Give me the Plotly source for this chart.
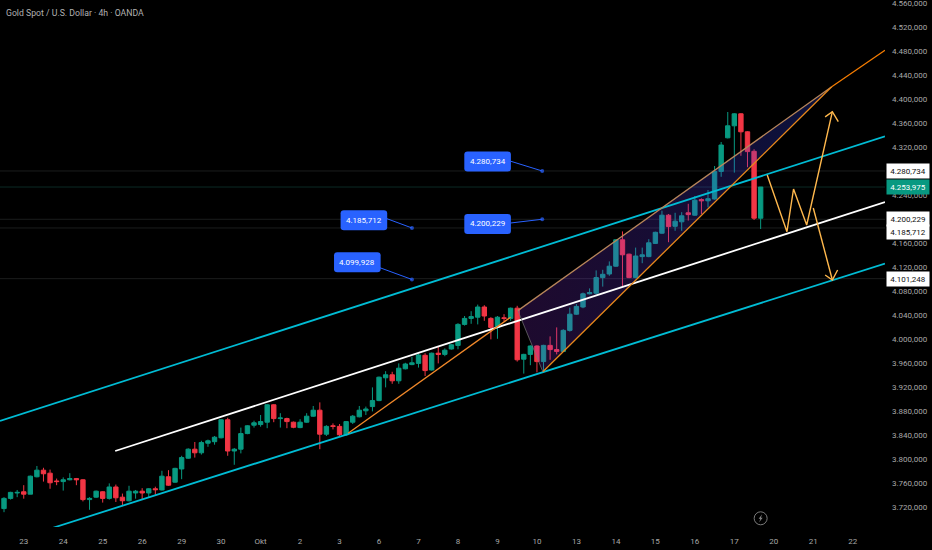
import plotly.graph_objects as go

# 4h candles, bar index is the x axis
opens = [3718, 3735, 3744, 3746, 3742, 3771, 3782, 3777, 3764, 3763, 3766, 3768, 3766, 3733, 3737, 3746, 3735, 3754, 3737, 3731,
         3744, 3747, 3744, 3751, 3749, 3771, 3762, 3784, 3802, 3817, 3811, 3827, 3829.5, 3836, 3866, 3814, 3817, 3843, 3857, 3858,
         3862, 3891, 3868, 3868, 3862, 3853, 3862, 3872, 3882, 3842, 3856, 3855, 3841, 3862, 3871, 3881, 3888, 3898, 3936, 3941,
         3931, 3951, 3958, 3960, 3973.5, 3949, 3977, 3975, 3984, 3990, 4025, 4035, 4037, 4054, 4035, 4020, 4036, 4035, 4052, 3967,
         3975, 3989, 3963, 3990, 3983, 3980, 4015, 4042, 4054, 4076, 4077, 4103, 4109, 4122, 4166, 4142, 4103, 4138, 4138, 4160,
         4177, 4207, 4188.5, 4196, 4211, 4207, 4233, 4231, 4234, 4280, 4336, 4356, 4376, 4346, 4313.5, 4202]
highs = [3737, 3746, 3749, 3757, 3773, 3789, 3786, 3783, 3768, 3770, 3777, 3769, 3767, 3737, 3748, 3747, 3760, 3758, 3743, 3756,
         3749, 3752, 3752, 3754.5, 3781, 3782, 3786, 3806, 3818.5, 3829, 3831, 3833, 3839, 3867, 3869.5, 3819, 3853, 3857, 3864.5, 3874,
         3892, 3892, 3877, 3869.5, 3863, 3867, 3877, 3889, 3895, 3857, 3860, 3859, 3864, 3874, 3889, 3888, 3920, 3938, 3947, 3946,
         3960, 3961, 3971, 3976, 3977, 3978, 3988, 3985, 3992, 4027, 4039, 4047, 4058, 4057, 4037, 4039, 4042, 4053, 4056, 3976,
         3990, 3990, 3991, 4005, 4020, 4017, 4053, 4059, 4078, 4085, 4115, 4116, 4130, 4167, 4180, 4143, 4153, 4153, 4167, 4179.5,
         4214.5, 4209, 4211, 4212, 4226, 4239, 4235, 4249, 4289, 4329, 4379, 4377, 4377, 4347, 4317, 4254]
lows = [3712, 3733, 3737, 3734.5, 3742, 3770, 3763, 3751, 3757, 3748, 3765, 3757, 3730, 3716, 3736, 3728, 3733, 3729, 3722, 3730,
        3734.5, 3733, 3737, 3741, 3748, 3756, 3761, 3767, 3801, 3803, 3808, 3821, 3824.5, 3835, 3806, 3791, 3810, 3842, 3853, 3854.5,
        3852, 3862, 3853, 3852, 3852, 3852, 3861, 3871, 3817, 3839, 3850, 3839, 3839, 3859, 3870, 3874, 3880, 3897, 3920, 3926,
        3926, 3950, 3957, 3953, 3939, 3948, 3960, 3972, 3983, 3983.5, 4023, 4026, 4025, 4031, 4000, 4001, 4030, 4031, 3963, 3943,
        3957, 3945, 3946, 3966, 3975, 3979, 4013, 4041, 4052, 4075, 4075, 4088, 4106, 4121, 4089, 4102, 4102, 4127, 4137, 4159,
        4176, 4162, 4181, 4181, 4198, 4206, 4209, 4220, 4233, 4271, 4335, 4278, 4306, 4287, 4199, 4184]
closes = [3735, 3745, 3745, 3742, 3772, 3782, 3776, 3761, 3763, 3766, 3768, 3766, 3733, 3735, 3747, 3735, 3754, 3736, 3731, 3747,
          3747, 3744, 3751, 3749.5, 3772, 3757, 3785, 3803, 3817, 3811, 3828, 3831, 3837, 3866, 3814, 3817, 3843, 3856, 3861, 3863,
          3891, 3868, 3869, 3863, 3853.5, 3862, 3872, 3882, 3842, 3855, 3855, 3841, 3863, 3872, 3882, 3884, 3898, 3937, 3941, 3931,
          3952, 3959, 3961, 3974, 3948, 3977, 3975, 3982, 3991, 4025, 4035, 4038, 4054, 4039, 4020, 4037, 4035, 4052, 3966, 3975,
          3989, 3963, 3990, 3983, 3980, 4015, 4042, 4055, 4076, 4078, 4103, 4108.5, 4122, 4166, 4141, 4103, 4139, 4141, 4161, 4178.5,
          4207, 4188, 4197, 4206, 4208, 4232, 4231, 4234.5, 4280, 4324, 4356, 4376, 4346, 4313, 4202, 4253.975]

# axis labels
day_positions = [3, 9, 15, 21, 27, 33, 39, 45, 51, 57, 63, 69, 75, 81, 87, 93, 99, 105, 111, 117, 123, 129]
day_labels = ["23", "24", "25", "26", "29", "30", "Okt", "2", "3", "6", "7", "8", "9", "10", "13", "14", "15", "16", "17", "20", "21", "22"]

# drawings: channel, wedge, projections
upper_channel_x, upper_channel_y = [-0.61, 133.9], [3864, 4338.5]
lower_channel_x, lower_channel_y = [7.45, 133.9], [3686, 4126.5]
mid_line_x, mid_line_y = [16.9, 133.9], [3814, 4229]
rise_line_x, rise_line_y = [52.3, 77], [3843.5, 4037]
wedge_x, wedge_y = [78.1, 125.8, 81.9, 78.1], [4048, 4421, 3946, 4048]
ray_x, ray_y = [125.8, 133.9], [4421, 4482]
path_up_x = [116, 119, 120, 122, 125.9]
path_up_y = [4274, 4179.5, 4250.7, 4190.7, 4379.5]
head_up_x, head_up_y = [124.8, 125.9, 126.8], [4371, 4379.5, 4362.8]
path_down_x, path_down_y = [123, 125.9], [4219, 4099]
head_down_x, head_down_y = [124.8, 125.9, 126.7], [4107.3, 4099, 4115.7]

# price levels and the labels on the price scale
level_prices = [4280.734, 4253.975, 4200.229, 4185.712, 4101.248]
level_labels = ["4.280,734", "4.253,975", "4.200,229", "4.185,712", "4.101,248"]
level_colors = ["#1b1d1d", "#0b2a25", "#1b1d1d", "#1b1d1d", "#1b1d1d"]
level_shifts = [0, 0, 0, -4, 0]

# blue callouts: text, box centre, dot
callout_text = ["4.280,734", "4.200,229", "4.185,712", "4.099,928"]
callout_x = [73.5, 73.5, 54.7, 53.7]
callout_y = [4296.5, 4192.5, 4198.5, 4128.5]
callout_edge_x = [77, 77, 58, 57]
callout_edge_y = [4297, 4194, 4202, 4120]
callout_dot_x = [81.8, 81.8, 62, 62]
callout_dot_y = [4280.7, 4200.2, 4185.7, 4099.9]

fig = go.Figure()

# candles first, scatter always sits on top of them
fig.add_trace(go.Candlestick(
    x=list(range(len(opens))), open=opens, high=highs, low=lows, close=closes,
    increasing=dict(line=dict(color="#089981", width=1), fillcolor="#089981"),
    decreasing=dict(line=dict(color="#F23645", width=1), fillcolor="#F23645"),
    whiskerwidth=0, hoverinfo="skip"
))

# wedge fill, purple on the left going to navy
fig.add_trace(go.Scatter(
    x=wedge_x, y=wedge_y, mode="none", fill="toself",
    fillgradient=dict(type="horizontal", colorscale=[[0, "rgba(150,50,230,0.2)"], [1, "rgba(40,70,240,0.25)"]]),
    hoverinfo="skip"
))


def add_line(xs, ys, color, width=1.8):
    fig.add_trace(go.Scatter(x=xs, y=ys, mode="lines", line=dict(color=color, width=width), hoverinfo="skip"))


add_line(upper_channel_x, upper_channel_y, "#00BCD4")
add_line(lower_channel_x, lower_channel_y, "#00BCD4")
add_line(mid_line_x, mid_line_y, "#FFFFFF")
add_line(rise_line_x, rise_line_y, "#F0882A", 1.3)
add_line(wedge_x[:2], wedge_y[:2], "#B8865A", 1.3)
add_line(wedge_x[1:3], wedge_y[1:3], "#E8891C", 1.3)
add_line(wedge_x[2:], wedge_y[2:], "#777777", 0.7)
add_line(ray_x, ray_y, "#F57C00", 1.3)
add_line(path_up_x, path_up_y, "#FFB84D", 1.4)
add_line(head_up_x, head_up_y, "#FFB84D", 1.4)
add_line(path_down_x, path_down_y, "#FFB84D", 1.4)
add_line(head_down_x, head_down_y, "#FFB84D", 1.4)

# callout leaders with the dot on the far end
for i in range(len(callout_text)):
    fig.add_trace(go.Scatter(
        x=[callout_edge_x[i], callout_dot_x[i]], y=[callout_edge_y[i], callout_dot_y[i]],
        mode="lines+markers", line=dict(color="#2962FF", width=1),
        marker=dict(color="#2962FF", size=[0, 4], line=dict(width=0)), hoverinfo="skip"
    ))

shapes = []
annotations = []

for price, color in zip(level_prices, level_colors):
    shapes.append(dict(type="line", xref="paper", x0=0, x1=1, yref="y", y0=price, y1=price,
                       line=dict(color=color, width=1), layer="below"))

# rounded boxes are fixed pixel size so they stay the same at any range
box_path = "M -20,-10 L 20,-10 Q 23.3,-10 23.3,-7 L 23.3,7 Q 23.3,10 20,10 L -20,10 Q -23.3,10 -23.3,7 L -23.3,-7 Q -23.3,-10 -20,-10 Z"
for i in range(len(callout_text)):
    shapes.append(dict(type="path", xsizemode="pixel", ysizemode="pixel", xref="x", yref="y",
                       xanchor=callout_x[i], yanchor=callout_y[i], path=box_path,
                       fillcolor="#2962FF", line=dict(width=0)))
    annotations.append(dict(x=callout_x[i], y=callout_y[i], text=callout_text[i], showarrow=False,
                            font=dict(family="Roboto", size=8, color="#FFFFFF")))

# labels on the price scale
for price, label, shift in zip(level_prices, level_labels, level_shifts):
    is_last = price == closes[-1]
    annotations.append(dict(
        xref="paper", x=1, xanchor="left", xshift=1, y=price, yshift=shift, yref="y",
        text=label, showarrow=False, width=40, height=12, align="center",
        bgcolor="#089981" if is_last else "#FFFFFF",
        font=dict(family="Roboto", size=8, color="#FFFFFF" if is_last else "#111111")
    ))

# title
annotations.append(dict(xref="paper", yref="paper", x=0, y=1, xshift=4, yshift=-6, xanchor="left", yanchor="top",
                        text="Gold Spot / U.S. Dollar · 4h · OANDA", showarrow=False,
                        font=dict(family="Roboto", size=8.7, color="#B2B2B2")))

# small bolt badge near the bottom
shapes.append(dict(type="circle", xsizemode="pixel", ysizemode="pixel", xref="x", yref="y",
                   xanchor=115, yanchor=3701.8, x0=-6.5, x1=6.5, y0=-6.5, y1=6.5,
                   line=dict(color="#7A7A7A", width=1)))
shapes.append(dict(type="path", xsizemode="pixel", ysizemode="pixel", xref="x", yref="y",
                   xanchor=115, yanchor=3701.8, path="M 1.5,4 L -2,-0.5 L -0.2,-0.5 L -1.5,-4 L 2,0.5 L 0.2,0.5 Z",
                   fillcolor="#8A8A8A", line=dict(width=0)))

fig.update_layout(
    width=932, height=550,
    margin=dict(l=0, r=47, t=0, b=23),
    paper_bgcolor="#000000", plot_bgcolor="#000000",
    showlegend=False, separators=",.", boxgap=0.05,
    font=dict(family="Roboto", size=8, color="#A8A8A8"),
    shapes=shapes, annotations=annotations,
    xaxis=dict(range=[-0.608, 133.9], tickvals=day_positions, ticktext=day_labels, showgrid=False,
               zeroline=False, showline=False, ticks="", ticklabelstandoff=8,
               rangeslider=dict(visible=False), tickfont=dict(family="Roboto", size=8, color="#A8A8A8")),
    yaxis=dict(range=[3687.3, 4565.7], side="right", dtick=40, tick0=3720, tickformat=",.3f", showgrid=False,
               zeroline=False, showline=False, ticks="", ticklabelstandoff=6, ticklabeloverflow="allow",
               tickfont=dict(family="Roboto", size=8, color="#A8A8A8"))
)

# page margin would push the 932x550 figure off the window
fig.write_html("out.html", config=dict(displayModeBar=False),
               post_script="document.body.style.margin='0';document.body.style.background='#000';document.body.style.overflow='hidden';")
